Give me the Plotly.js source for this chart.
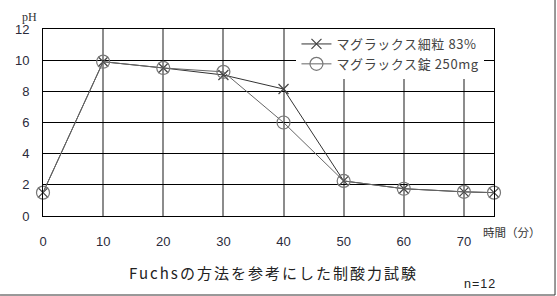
<!DOCTYPE html>
<html><head><meta charset="utf-8">
<script src="https://cdn.plot.ly/plotly-3.0.1.min.js"></script>
<style>html,body{margin:0;padding:0;background:#fff;}#chart{width:557px;height:296px;}
.annotation[data-index="2"] text{letter-spacing:2px;}
.annotation[data-index="3"] text{letter-spacing:1px;}
.legendtext{letter-spacing:0.6px;}
</style>
</head><body><div id="chart"></div>
<script>
const times = [0, 10, 20, 30, 40, 50, 60, 70, 75];
const granulePH = [1.5, 9.9, 9.5, 9.05, 8.15, 2.25, 1.75, 1.55, 1.5];
const tabletPH = [1.5, 9.9, 9.5, 9.25, 6.0, 2.25, 1.75, 1.55, 1.5];
const seriesNames = ['マグラックス細粒 83%', 'マグラックス錠 250mg'];
const xTicks = [0, 10, 20, 30, 40, 50, 60, 70];
const yTicks = [0, 2, 4, 6, 8, 10, 12];

const traces = [
  {x: times, y: granulePH, name: seriesNames[0], mode: 'lines+markers', cliponaxis: false,
   line: {color: '#333', width: 1},
   marker: {symbol: 'x-thin-open', size: 10, color: '#444', line: {color: '#444', width: 1.2}}},
  {x: times, y: tabletPH, name: seriesNames[1], mode: 'lines+markers', cliponaxis: false,
   line: {color: '#666', width: 1},
   marker: {symbol: 'circle-open', size: 13, color: '#777', line: {color: '#777', width: 1.2}}}
];

const tickFont = {family: 'Liberation Sans, Arial, sans-serif', size: 13, color: '#2a2a3a'};
const layout = {
  width: 557, height: 296,
  margin: {l: 43, r: 63, t: 29, b: 80},
  paper_bgcolor: '#fff', plot_bgcolor: '#fff',
  showlegend: true,
  legend: {x: 0.562, y: 1, xanchor: 'left', yanchor: 'top', bgcolor: '#fff',
           font: {family: 'Noto Sans CJK JP, sans-serif', size: 13, color: '#444'},
           tracegroupgap: 4, itemwidth: 30},
  xaxis: {range: [0, 75], tickvals: xTicks, ticktext: xTicks.map(String), showgrid: true,
          gridcolor: '#8c8c8c', gridwidth: 2, zeroline: false, showline: true, mirror: true,
          linecolor: '#000', linewidth: 1, ticks: '', tickfont: tickFont, ticklabelstandoff: 13},
  yaxis: {range: [0, 12], tickvals: yTicks, ticktext: yTicks.map(String), showgrid: true,
          gridcolor: '#000', gridwidth: 1, zeroline: false, showline: true, mirror: true,
          linecolor: '#000', linewidth: 1, ticks: '', tickfont: tickFont, ticklabelstandoff: 10},
  annotations: [
    {text: 'pH', xref: 'paper', yref: 'paper', x: -0.031, y: 1.064, xanchor: 'center', yanchor: 'middle',
     showarrow: false, font: {family: 'Liberation Serif, serif', size: 12, color: '#333'}},
    {text: '時間（分）', xref: 'paper', yref: 'paper', x: 1.04, y: -0.086, xanchor: 'center', yanchor: 'middle',
     showarrow: false, font: {family: 'Noto Sans CJK JP, sans-serif', size: 11.5, color: '#333'}},
    {text: 'Fuchsの方法を参考にした制酸力試験', xref: 'paper', yref: 'paper', x: 0.51, y: -0.30,
     xanchor: 'center', yanchor: 'middle',
     showarrow: false, font: {family: 'Noto Sans CJK JP, sans-serif', size: 15, color: '#222'}},
    {text: 'n=12', xref: 'paper', yref: 'paper', x: 0.969, y: -0.364, xanchor: 'center', yanchor: 'middle',
     showarrow: false, font: {family: 'Liberation Sans, Arial, sans-serif', size: 12.5, color: '#222'}}
  ],
  shapes: [
    {type: 'line', xref: 'paper', yref: 'paper', x0: -0.0953, x1: 1.1353, y0: -0.4225, y1: -0.4225,
     line: {color: '#333', width: 1}},
    {type: 'line', xref: 'paper', yref: 'paper', x0: 1.1353, x1: 1.1353, y0: -0.4225, y1: 1.16,
     line: {color: '#333', width: 1}}
  ]
};
Plotly.newPlot('chart', traces, layout, {staticPlot: true, displayModeBar: false});
</script></body></html>
